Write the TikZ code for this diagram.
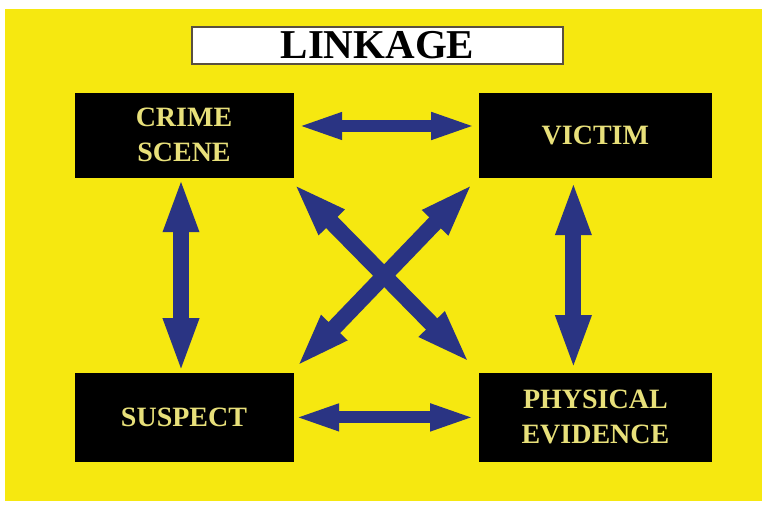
\documentclass[tikz,border=0pt]{standalone}
\usepackage{fontspec}
\setmainfont{Liberation Serif}
\usetikzlibrary{arrows.meta, positioning}
\definecolor{slideyellow}{HTML}{F6E810}
\definecolor{labelyellow}{HTML}{E8E07A}
\definecolor{linknavy}{HTML}{2A3483}
\definecolor{titleedge}{HTML}{5A5040}
\tikzset{
  box/.style={rectangle, fill=black, draw=black, text=labelyellow, align=center,
              inner sep=0pt, minimum width=232pt, minimum height=84pt,
              font=\fontsize{28}{35}\selectfont\bfseries},
  boxl/.style={box, minimum width=218pt},
  titlebox/.style={rectangle, fill=white, draw=titleedge, line width=1.2pt, inner sep=0pt,
              minimum width=371pt, minimum height=37pt, font=\fontsize{41}{45}\selectfont\bfseries},
  link/.style={line width=16pt, draw=linknavy,
               {Triangle[length=55pt,width=32pt]}-{Triangle[length=55pt,width=32pt]}},
  linkh/.style={link, line width=12pt,
               {Triangle[length=46pt,width=24pt]}-{Triangle[length=46pt,width=24pt]}},
}

\begin{document}
\begin{tikzpicture}[x=1pt, y=1pt]
    % page and slide
    \useasboundingbox (0,0) rectangle (762,504);
    \fill[white] (0,0) rectangle (762,504);
    \fill[slideyellow] (5,3) rectangle (762,495);

    % title
    \node[titlebox] (title) at (377.5,458.5) {LINKAGE};

    % four corners
    \node[boxl] (crime) at (184,369) {CRIME\\SCENE};
    \node[box, right=186pt of crime] (victim) {VICTIM};
    \node[boxl, below=196pt of crime, minimum height=88pt] (suspect) {SUSPECT};
    \node[box, below=196pt of victim, minimum height=88pt] (phys) {PHYSICAL\\EVIDENCE};

    % links
    \draw[linkh, shorten <=3pt, shorten >=2pt] ([yshift=9pt]crime.east) -- ([yshift=9pt]victim.west);
    \draw[linkh, shorten >=3pt] (suspect.east) -- (phys.west);
    \draw[link] ([xshift=-3pt]crime.south) -- ([xshift=-3pt]suspect.north);
    \draw[link, shorten <=3pt, shorten >=3pt] ([xshift=-22pt]victim.south) -- ([xshift=-22pt]phys.north);

    % the cross
    \draw[link] ([yshift=-6pt]crime.south east) -- ([shift={(-9pt,10pt)}]phys.north west);
    \draw[link] ([shift={(3pt,6pt)}]suspect.north east) -- ([shift={(-6pt,-6pt)}]victim.south west);
\end{tikzpicture}
\end{document}
